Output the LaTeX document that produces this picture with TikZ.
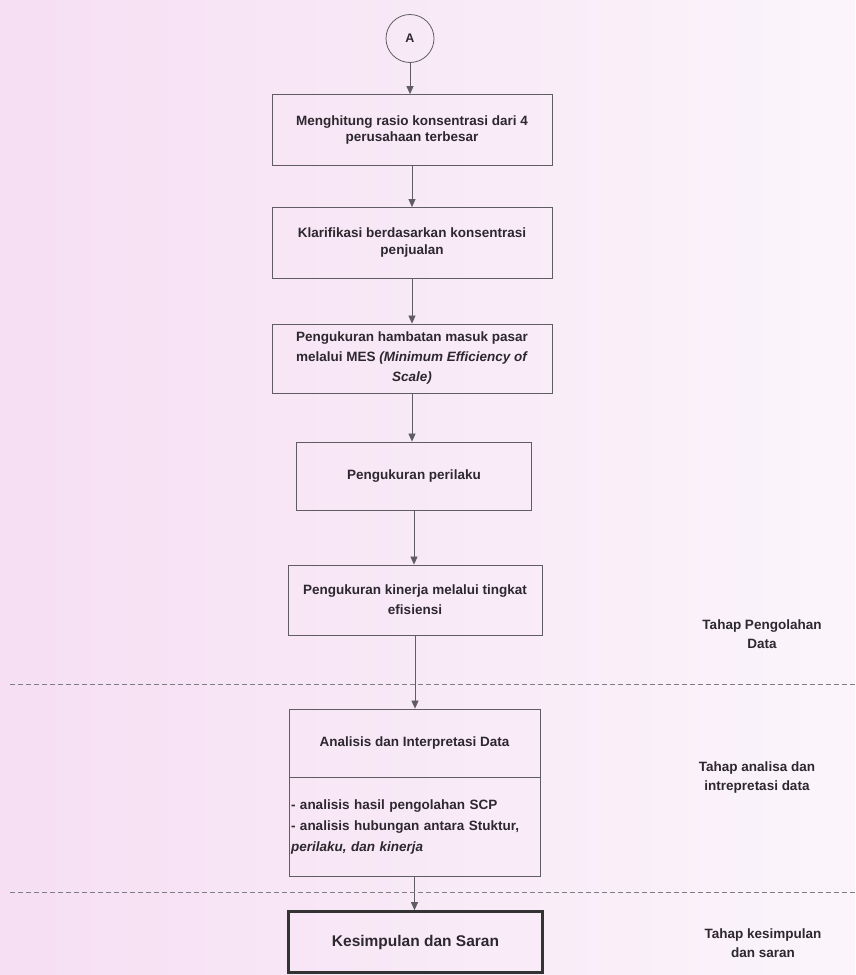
\documentclass[tikz,border=0pt]{standalone}
\usepackage{fontspec}
\setmainfont{Liberation Sans}
\usetikzlibrary{arrows.meta,calc}
\definecolor{bgL}{RGB}{246,222,243}
\definecolor{bgR}{RGB}{251,245,251}
\definecolor{ink}{RGB}{45,40,48}
\definecolor{edgec}{RGB}{95,92,100}
\begin{document}
\begin{tikzpicture}[x=1pt,y=-1pt,
  every node/.style={text=ink, font=\bfseries\fontsize{13.5}{20}\selectfont},
  box/.style={draw=edgec, line width=0.8pt, align=center, inner sep=0pt},
  flow/.style={draw=edgec, line width=0.7pt, -{Triangle[length=8pt,width=7pt]}},
  sep/.style={draw=edgec!80, line width=0.6pt, dash pattern=on 5pt off 3pt},
  lbl/.style={align=center, font=\bfseries\fontsize{13.5}{19}\selectfont}]
\shade[left color=bgL, right color=bgR] (0,0) rectangle (855,975);
\useasboundingbox (0,0) rectangle (855,975);

\node[draw=edgec, line width=0.8pt, circle, minimum size=48pt, inner sep=0pt, font=\bfseries\fontsize{12.5}{14}\selectfont] (A) at (410,38.5) {A};

\node[box, minimum width=280pt, minimum height=71pt, font=\bfseries\fontsize{13.5}{15.5}\selectfont] (b1) at (412,130)
  {Menghitung rasio konsentrasi dari 4\\perusahaan terbesar};
\node[box, minimum width=280pt, minimum height=71pt, font=\bfseries\fontsize{13.5}{17}\selectfont] (b2) at (412,243)
  {Klarifikasi berdasarkan konsentrasi\\penjualan};
\node[box, minimum width=280pt, minimum height=69pt] (b3) at (412,358.5)
  {Pengukuran hambatan masuk pasar\\melalui MES \textit{(Minimum Efficiency of}\\\textit{Scale)}};
\node[box, minimum width=235pt, minimum height=68pt] (b4) at (414,476)
  {Pengukuran perilaku};
\node[box, minimum width=254pt, minimum height=70pt] (b5) at (415,600)
  {Pengukuran kinerja melalui tingkat\\efisiensi};
\node[box, minimum width=251pt, minimum height=68pt] (b6) at (414.5,743)
  {Analisis dan Interpretasi Data};
\node[box, minimum width=251pt, minimum height=99pt, anchor=north, align=left, text width=247pt, font=\bfseries\fontsize{13.5}{21}\selectfont] (b6b) at (b6.south)
  {- analisis hasil pengolahan SCP\\- analisis hubungan antara Stuktur,\\\textit{perilaku, dan kinerja}};
\node[draw=black!80, line width=2.6pt, minimum width=254pt, minimum height=61pt, inner sep=0pt, font=\bfseries\fontsize{15.5}{18}\selectfont] (b7) at (415.5,942)
  {Kesimpulan dan Saran};

\draw[flow] (A.south) -- (A.south |- b1.north);
\draw[flow] (b1.south) -- (b1.south |- b2.north);
\draw[flow] (b2.south) -- (b2.south |- b3.north);
\draw[flow] (b3.south) -- (b3.south |- b4.north);
\draw[flow] (b4.south) -- (b4.south |- b5.north);
\draw[flow] (b5.south) -- (b5.south |- b6.north);
\draw[flow] (b6b.south) -- (b6b.south |- b7.north);

\draw[sep] (10,684) -- (855,684);
\draw[sep] (10,892) -- (855,892);

\node[lbl] (t1) at (762,634) {Tahap Pengolahan\\Data};
\node[lbl] (t2) at (757,777) {Tahap analisa dan\\intrepretasi data};
\node[lbl] (t3) at (763,943) {Tahap kesimpulan\\dan saran};
\end{tikzpicture}
\end{document}
